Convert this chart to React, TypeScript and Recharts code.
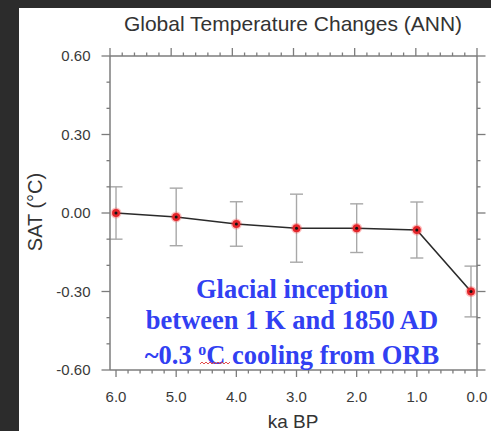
import { ComposedChart, Line, XAxis, YAxis, ErrorBar } from 'recharts';

const kaBP = [6.0, 5.0, 4.0, 3.0, 2.0, 1.0, 0.1];
const satChange = [0.0, -0.015, -0.042, -0.058, -0.058, -0.065, -0.3];
const satSpread = [0.1, 0.11, 0.085, 0.13, 0.093, 0.107, 0.097];

const xMajor = [6.0, 5.0, 4.0, 3.0, 2.0, 1.0, 0.0];
const yMajor = [0.6, 0.3, 0.0, -0.3, -0.6];

const data = kaBP.map((ka, i) => ({ ka, sat: satChange[i], err: satSpread[i] }));

// minor ticks every 0.2 on x, 0.1 on y
const xTicks: number[] = [];
for (let i = 0; i <= 30; i++) xTicks.push(Math.round(i * 2) / 10);
const yTicks: number[] = [];
for (let i = -6; i <= 6; i++) yTicks.push(i / 10);

const AXIS = '#7c7c7c';
const LABEL = '#3a3a3a';
const FONT = '"Liberation Sans", Arial, Helvetica, sans-serif';

const isMajorX = (v: number) => xMajor.some((m) => Math.abs(m - v) < 1e-6);
const isMajorY = (v: number) => yMajor.some((m) => Math.abs(m - v) < 1e-6);

const BottomTick = (props: any) => {
    const { x, y, payload } = props;
    const major = isMajorX(payload.value);
    return (
        <g>
            <line x1={x} x2={x} y1={y} y2={y + (major ? 7 : 3.5)} stroke={AXIS} strokeWidth={1.3} />
            {major && (
                <text x={x} y={y + 32} textAnchor="middle" fill={LABEL} fontSize={15} fontFamily={FONT}>
                    {payload.value.toFixed(1)}
                </text>
            )}
        </g>
    );
};

const TopTick = (props: any) => {
    const { x, y, payload } = props;
    const major = isMajorX(payload.value);
    return <line x1={x} x2={x} y1={y} y2={y - (major ? 8 : 3.5)} stroke={AXIS} strokeWidth={1.3} />;
};

const LeftTick = (props: any) => {
    const { x, y, payload } = props;
    const major = isMajorY(payload.value);
    return (
        <g>
            <line x1={x} x2={x - (major ? 8.5 : 3.5)} y1={y} y2={y} stroke={AXIS} strokeWidth={1.3} />
            {major && (
                <text x={x - 19.5} y={y + 5} textAnchor="end" fill={LABEL} fontSize={15} fontFamily={FONT}>
                    {payload.value.toFixed(2)}
                </text>
            )}
        </g>
    );
};

const RightTick = (props: any) => {
    const { x, y, payload } = props;
    const major = isMajorY(payload.value);
    return <line x1={x} x2={x + (major ? 8.5 : 3.5)} y1={y} y2={y} stroke={AXIS} strokeWidth={1.3} />;
};

const Marker = (props: any) => {
    const { cx, cy, index } = props;
    return (
        <g key={`dot-${index}`}>
            <circle cx={cx} cy={cy} r={5.5} fill="#ff3030" opacity={0.3} />
            <circle cx={cx} cy={cy} r={4} fill="#e4252a" />
            <circle cx={cx} cy={cy} r={1.5} fill="#111" />
        </g>
    );
};

export default function App() {
    return (
        <div style={{ position: 'fixed', left: 0, top: 0, width: 491, height: 431, background: '#2c2c2c', overflow: 'hidden' }}>
            <div style={{ position: 'absolute', left: 19, top: 8, right: 0, bottom: 0, background: '#ffffff' }} />

            <div
                style={{
                    position: 'absolute', left: 0, width: 586, top: 12, textAlign: 'center',
                    fontFamily: FONT, fontSize: 21, color: '#333', lineHeight: '24px', whiteSpace: 'nowrap',
                }}
            >
                Global Temperature Changes (ANN)
            </div>

            <div
                style={{
                    position: 'absolute', left: 35, top: 212, transform: 'translate(-50%, -50%) rotate(-90deg)',
                    fontFamily: FONT, fontSize: 20, color: '#333', whiteSpace: 'nowrap',
                }}
            >
                SAT (°C)
            </div>

            <div
                style={{
                    position: 'absolute', left: 0, width: 586, top: 410, textAlign: 'center',
                    fontFamily: FONT, fontSize: 19, color: '#333', lineHeight: '24px', whiteSpace: 'nowrap',
                }}
            >
                ka BP
            </div>

            <div style={{ position: 'absolute', left: 0, top: 0 }}>
                <ComposedChart width={491} height={431} data={data} margin={{ top: 46, right: 0, bottom: 11, left: 40 }}>
                    <XAxis
                        dataKey="ka" type="number" domain={[0, 6.1]} reversed allowDataOverflow
                        ticks={xTicks} interval={0} height={50} tickSize={0} tickMargin={0}
                        axisLine={{ stroke: AXIS, strokeWidth: 1.5 }} tickLine={false} tick={<BottomTick />}
                    />
                    <XAxis
                        xAxisId="top" orientation="top" type="number" domain={[0, 6.1]} reversed allowDataOverflow
                        ticks={xTicks} interval={0} height={10} tickSize={0} tickMargin={0}
                        axisLine={{ stroke: AXIS, strokeWidth: 1.5 }} tickLine={false} tick={<TopTick />}
                    />
                    <YAxis
                        type="number" domain={[-0.6, 0.6]} allowDataOverflow ticks={yTicks} interval={0}
                        width={70} tickSize={0} tickMargin={0}
                        axisLine={{ stroke: AXIS, strokeWidth: 1.5 }} tickLine={false} tick={<LeftTick />}
                    />
                    <YAxis
                        yAxisId="right" orientation="right" type="number" domain={[-0.6, 0.6]} allowDataOverflow
                        ticks={yTicks} interval={0} width={14} tickSize={0} tickMargin={0}
                        axisLine={{ stroke: AXIS, strokeWidth: 1.5 }} tickLine={false} tick={<RightTick />}
                    />
                    <Line
                        type="linear" dataKey="sat" stroke="#2a2a2a" strokeWidth={1.6}
                        dot={Marker} activeDot={false} isAnimationActive={false}
                    >
                        <ErrorBar dataKey="err" direction="y" width={6.5} stroke="#a8a8a8" strokeWidth={1.4} isAnimationActive={false} />
                    </Line>
                </ComposedChart>
            </div>

            <div
                style={{
                    position: 'absolute', left: 0, width: 584, top: 274, textAlign: 'center',
                    fontFamily: '"Liberation Serif", "Times New Roman", serif', fontWeight: 'bold',
                    fontSize: 26.5, lineHeight: '30.5px', color: '#3140f2', whiteSpace: 'nowrap',
                }}
            >
                <div>Glacial inception</div>
                <div>between 1 K and 1850 AD</div>
                <div>
                    ~0.3 <sup style={{ fontSize: '0.6em', verticalAlign: '0.55em' }}>o</sup>C cooling from ORB
                </div>
            </div>

            {/* spell-check squiggle under the degree sign */}
            <svg style={{ position: 'absolute', left: 199, top: 360 }} width={34} height={6}>
                <path
                    d="M1 4 L3 2 L5 4 L7 2 L9 4 L11 2 L13 4 L15 2 L17 4 L19 2 L21 4 L23 2 L25 4 L27 2 L29 4 L31 2"
                    fill="none" stroke="#e03a3a" strokeWidth={0.9}
                />
            </svg>
        </div>
    );
}
